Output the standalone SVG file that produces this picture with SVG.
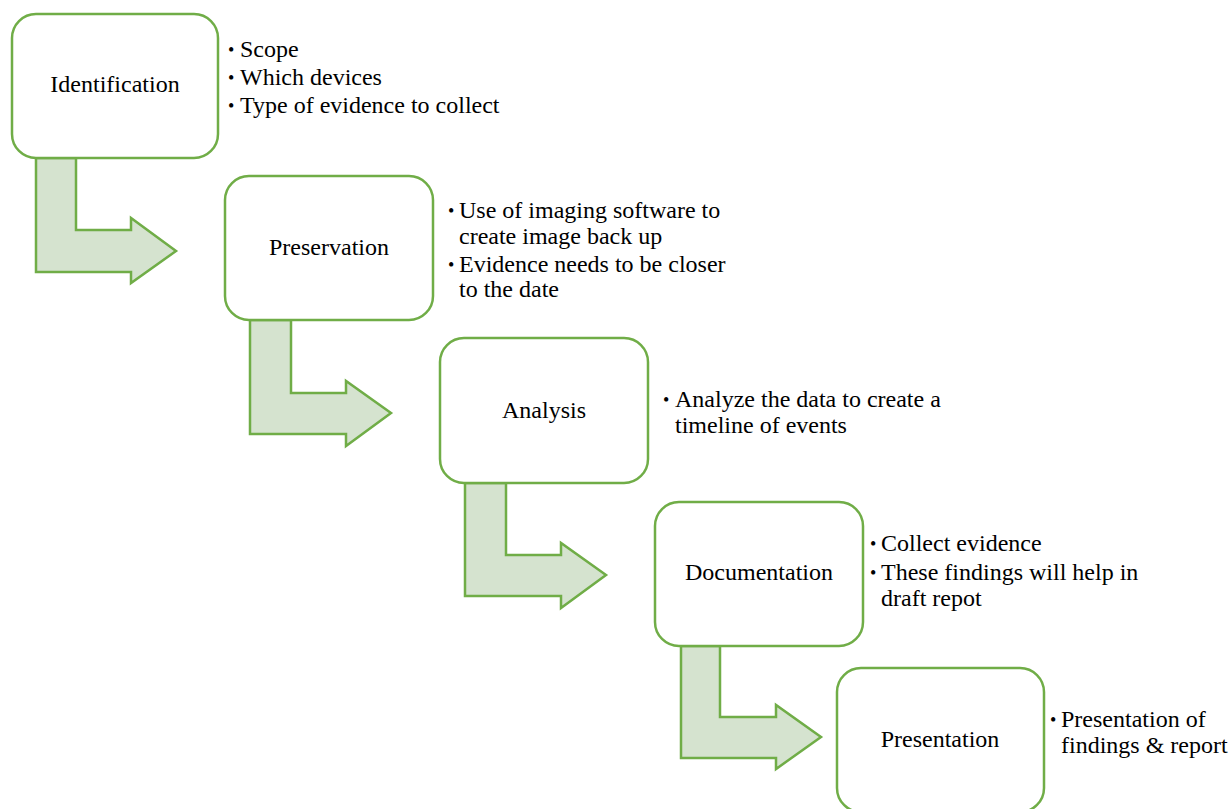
<svg xmlns="http://www.w3.org/2000/svg" width="1231" height="809" viewBox="0 0 1231 809">
<style>
  .box { fill: #ffffff; stroke: #70AD47; stroke-width: 2.5; }
  .arrow { fill: #D5E3CF; stroke: #70AD47; stroke-width: 2.5; stroke-linejoin: miter; }
</style>
<rect width="1231" height="809" fill="#ffffff"/>
<g id="connectors">
  <path class="arrow" d="M36,158 H76 V230 H131 V218 L176,251 L131,283 V272 H36 Z"/>
  <path class="arrow" d="M250,320 H291 V393 H346 V381 L391,413 L346,446 V434 H250 Z"/>
  <path class="arrow" d="M465,483 H506 V555 H561 V543 L606,575 L561,608 V596 H465 Z"/>
  <path class="arrow" d="M681,646 H720 V717 H776 V705 L821,737 L776,769 V758 H681 Z"/>
</g>
<g font-family="Liberation Serif, serif" fill="#000000">
<g id="identification">
  <rect class="box" x="12" y="14" width="206" height="144" rx="24"/>
  <text font-size="24" text-anchor="middle" x="115" y="92">Identification</text>
  <text font-size="18" x="228" y="56">•</text><text font-size="24" x="240" y="57">Scope</text>
  <text font-size="18" x="228" y="84">•</text><text font-size="24" x="240" y="85">Which devices</text>
  <text font-size="18" x="228" y="112">•</text><text font-size="24" x="240" y="113">Type of evidence to collect</text>
</g>
<g id="preservation">
  <rect class="box" x="225" y="176" width="208" height="144" rx="24"/>
  <text font-size="24" text-anchor="middle" x="329" y="255">Preservation</text>
  <text font-size="18" x="448" y="217">•</text><text font-size="24" x="459" y="218">Use of imaging software to</text>
  <text font-size="24" x="459" y="244">create image back up</text>
  <text font-size="18" x="448" y="271">•</text><text font-size="24" x="459" y="272">Evidence needs to be closer</text>
  <text font-size="24" x="459" y="297">to the date</text>
</g>
<g id="analysis">
  <rect class="box" x="440" y="338" width="208" height="145" rx="24"/>
  <text font-size="24" text-anchor="middle" x="544" y="418">Analysis</text>
  <text font-size="18" x="663" y="406">•</text><text font-size="24" x="675" y="407">Analyze the data to create a</text>
  <text font-size="24" x="675" y="433">timeline of events</text>
</g>
<g id="documentation">
  <rect class="box" x="655" y="502" width="208" height="144" rx="24"/>
  <text font-size="24" text-anchor="middle" x="759" y="580">Documentation</text>
  <text font-size="18" x="870" y="550">•</text><text font-size="24" x="881" y="551">Collect evidence</text>
  <text font-size="18" x="870" y="579">•</text><text font-size="24" x="881" y="580">These findings will help in</text>
  <text font-size="24" x="881" y="606">draft repot</text>
</g>
<g id="presentation">
  <rect class="box" x="837" y="668" width="207" height="144" rx="24"/>
  <text font-size="24" text-anchor="middle" x="940" y="747">Presentation</text>
  <text font-size="18" x="1050" y="726">•</text><text font-size="24" x="1061" y="727">Presentation of</text>
  <text font-size="24" x="1061" y="753">findings &amp; report</text>
</g>
</g>
</svg>
